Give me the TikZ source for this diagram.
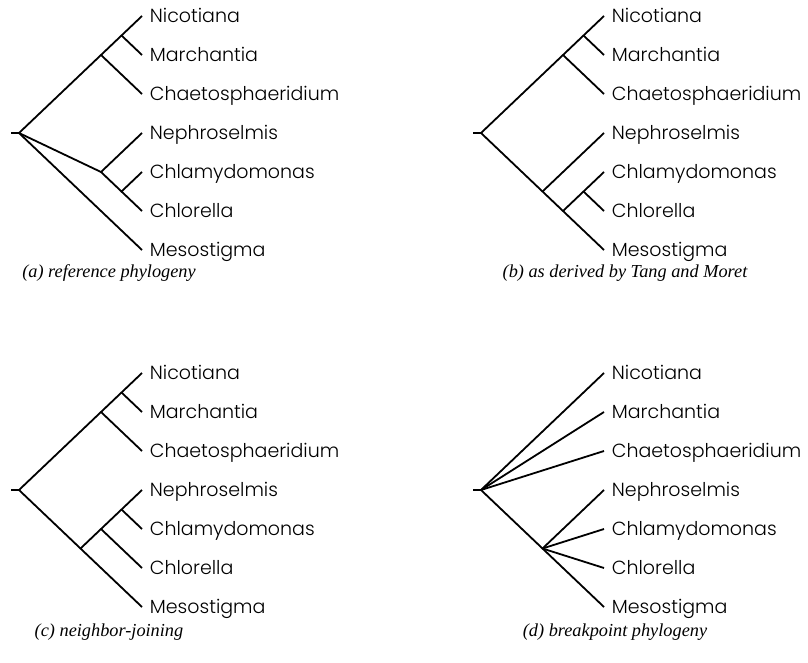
\documentclass[tikz,border=0pt]{standalone}
\usepackage{fontspec}
\setmainfont{Liberation Serif}
\newfontfamily\taxonfont{Poppins Light}
\begin{document}
\begin{tikzpicture}[x=1pt,y=-1pt,line width=1.8pt]
	\tikzstyle{every node}+=[inner sep=0pt]
	\tikzstyle{taxon}=[anchor=west,inner xsep=7pt,text height=13.3pt,text depth=0pt,font=\taxonfont\fontsize{19}{19}\selectfont]
	\tikzstyle{caption}=[font=\itshape\fontsize{18.3}{18.3}\selectfont]
	\useasboundingbox (0,0) rectangle (808,663);
	% (a) reference phylogeny
	\node [taxon] (aNic) at (142,16) {Nicotiana};
	\node [taxon] (aMar) at (142,55) {Marchantia};
	\node [taxon] (aCha) at (142,94) {Chaetosphaeridium};
	\node [taxon] (aNep) at (142,133) {Nephroselmis};
	\node [taxon] (aChl) at (142,172) {Chlamydomonas};
	\node [taxon] (aClo) at (142,211) {Chlorella};
	\node [taxon] (aMes) at (142,250) {Mesostigma};
	\coordinate (aStub) at (11,133);
	\coordinate (aRoot) at (19,133);
	\coordinate (aNM) at (121.5,35.5);
	\coordinate (aNMC) at (101,55);
	\coordinate (aCC) at (121.5,191.5);
	\coordinate (aNCC) at (101,172);
	\draw (aStub) -- (aRoot);
	\draw (aRoot) -- (aNMC) -- (aNM) -- (aNic.west);
	\draw (aNM) -- (aMar.west);
	\draw (aNMC) -- (aCha.west);
	\draw (aRoot) -- (aNCC) -- (aNep.west);
	\draw (aNCC) -- (aCC) -- (aChl.west);
	\draw (aCC) -- (aClo.west);
	\draw (aRoot) -- (aMes.west);
	\node [caption] (capA) at (109,273) {(a) reference phylogeny};
	% (b) as derived by Tang and Moret
	\node [taxon] (bNic) at (604,16) {Nicotiana};
	\node [taxon] (bMar) at (604,55) {Marchantia};
	\node [taxon] (bCha) at (604,94) {Chaetosphaeridium};
	\node [taxon] (bNep) at (604,133) {Nephroselmis};
	\node [taxon] (bChl) at (604,172) {Chlamydomonas};
	\node [taxon] (bClo) at (604,211) {Chlorella};
	\node [taxon] (bMes) at (604,250) {Mesostigma};
	\coordinate (bStub) at (473,133);
	\coordinate (bRoot) at (481,133);
	\coordinate (bNM) at (583.5,35.5);
	\coordinate (bNMC) at (563,55);
	\coordinate (bCC) at (583.5,191.5);
	\coordinate (bCCM) at (563,211);
	\coordinate (bN) at (542.5,191.5);
	\draw (bStub) -- (bRoot);
	\draw (bRoot) -- (bNMC) -- (bNM) -- (bNic.west);
	\draw (bNM) -- (bMar.west);
	\draw (bNMC) -- (bCha.west);
	\draw (bRoot) -- (bN) -- (bCCM) -- (bMes.west);
	\draw (bN) -- (bNep.west);
	\draw (bCCM) -- (bCC) -- (bChl.west);
	\draw (bCC) -- (bClo.west);
	\node [caption] (capB) at (625,273) {(b) as derived by Tang and Moret};
	% (c) neighbor-joining
	\node [taxon] (cNic) at (142,373) {Nicotiana};
	\node [taxon] (cMar) at (142,412) {Marchantia};
	\node [taxon] (cCha) at (142,451) {Chaetosphaeridium};
	\node [taxon] (cNep) at (142,490) {Nephroselmis};
	\node [taxon] (cChl) at (142,529) {Chlamydomonas};
	\node [taxon] (cClo) at (142,568) {Chlorella};
	\node [taxon] (cMes) at (142,607) {Mesostigma};
	\coordinate (cStub) at (11,490);
	\coordinate (cRoot) at (19,490);
	\coordinate (cNM) at (121.5,392.5);
	\coordinate (cNMC) at (101,412);
	\coordinate (cNC) at (121.5,509.5);
	\coordinate (cNCC) at (101,529);
	\coordinate (cB) at (80.5,548.5);
	\draw (cStub) -- (cRoot);
	\draw (cRoot) -- (cNMC) -- (cNM) -- (cNic.west);
	\draw (cNM) -- (cMar.west);
	\draw (cNMC) -- (cCha.west);
	\draw (cRoot) -- (cB) -- (cMes.west);
	\draw (cB) -- (cNCC) -- (cNC) -- (cNep.west);
	\draw (cNC) -- (cChl.west);
	\draw (cNCC) -- (cClo.west);
	\node [caption] (capC) at (109,632) {(c) neighbor-joining};
	% (d) breakpoint phylogeny
	\node [taxon] (dNic) at (604,373) {Nicotiana};
	\node [taxon] (dMar) at (604,412) {Marchantia};
	\node [taxon] (dCha) at (604,451) {Chaetosphaeridium};
	\node [taxon] (dNep) at (604,490) {Nephroselmis};
	\node [taxon] (dChl) at (604,529) {Chlamydomonas};
	\node [taxon] (dClo) at (604,568) {Chlorella};
	\node [taxon] (dMes) at (604,607) {Mesostigma};
	\coordinate (dStub) at (473,490);
	\coordinate (dRoot) at (481,490);
	\coordinate (dB) at (542.5,548.5);
	\draw (dStub) -- (dRoot);
	\draw (dRoot) -- (dNic.west);
	\draw (dRoot) -- (dMar.west);
	\draw (dRoot) -- (dCha.west);
	\draw (dRoot) -- (dB) -- (dMes.west);
	\draw (dB) -- (dNep.west);
	\draw (dB) -- (dChl.west);
	\draw (dB) -- (dClo.west);
	\node [caption] (capD) at (615,632) {(d) breakpoint phylogeny};
\end{tikzpicture}
\end{document}
